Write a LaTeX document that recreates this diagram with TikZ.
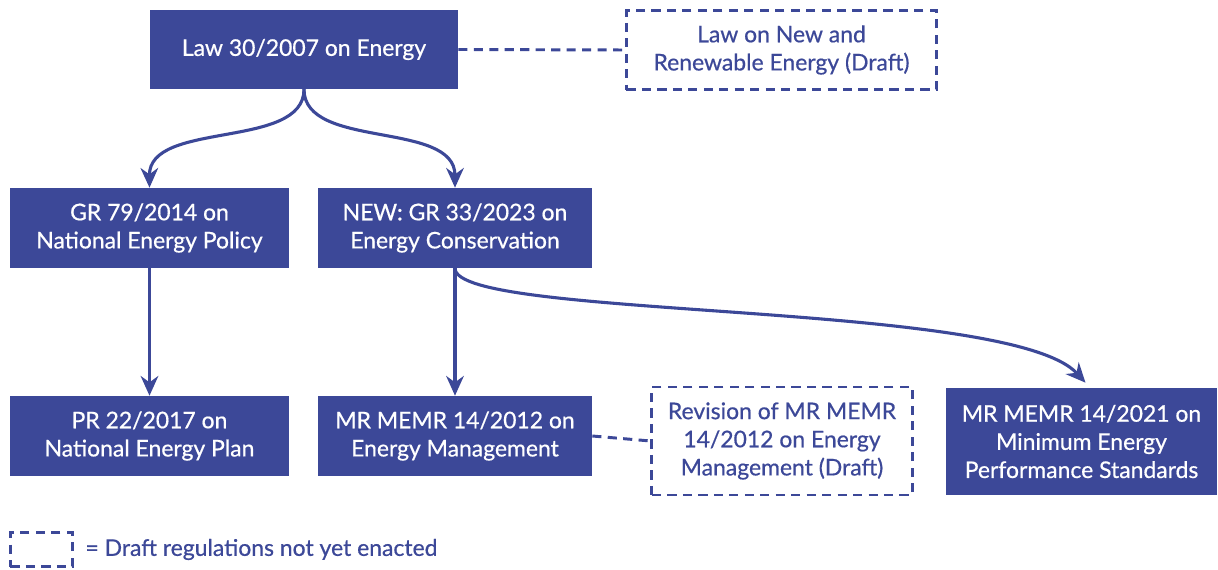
\documentclass[tikz,border=0pt]{standalone}
\usepackage{fontspec}
\setmainfont{Lato}[RawFeature={embolden=0.6}]
\usepackage{tikz}
\usetikzlibrary{arrows.meta, positioning, calc}
\definecolor{regblue}{RGB}{60,72,152}

\tikzset{
  regbox/.style={rectangle, fill=regblue, text=white, align=center, inner sep=0pt, font=\fontsize{16.3}{20}\selectfont},
  draftbox/.style={rectangle, draw=regblue, text=regblue, dash pattern=on 6.5pt off 4.5pt, line width=2.1pt, align=center, inner sep=0pt, font=\fontsize{16.3}{20}\selectfont},
  link/.style={regblue, line width=2.2pt, -{Stealth[length=14pt, width=12.5pt, inset=4.5pt]}},
  draftlink/.style={regblue, line width=2.1pt, dash pattern=on 6.5pt off 4.5pt}
}

\begin{document}
\begin{tikzpicture}[x=0.025cm, y=-0.025cm]
      \useasboundingbox (0,0) rectangle (1218,570);

      \node[regbox, minimum width=7.7cm, minimum height=1.975cm] (law) at (304, 49.5) {Law 30/2007 on Energy};
      \node[draftbox, minimum width=7.75cm, minimum height=1.975cm] (lawdraft) at (781.5, 50) {Law on New and\\Renewable Energy (Draft)};

      \node[regbox, minimum width=6.975cm, minimum height=2cm] (gr79) at (149.5, 228) {GR 79/2014 on\\National Energy Policy};
      \node[regbox, minimum width=6.85cm, minimum height=2cm] (gr33) at (455, 228) {NEW: GR 33/2023 on\\Energy Conservation};

      \node[regbox, minimum width=6.975cm, minimum height=2cm] (pr22) at (149.5, 436) {PR 22/2017 on\\National Energy Plan};
      \node[regbox, minimum width=6.85cm, minimum height=2cm] (mr12) at (455, 436) {MR MEMR 14/2012 on\\Energy Management};
      \node[draftbox, minimum width=6.5cm, minimum height=2.7cm] (mr12draft) at (782, 441) {Revision of MR MEMR\\14/2012 on Energy\\Management (Draft)};
      \node[regbox, minimum width=6.775cm, minimum height=2.675cm] (mr21) at (1081.5, 441.5) {MR MEMR 14/2021 on\\Minimum Energy\\Performance Standards};

      % legend
      \node[draftbox, minimum width=1.55cm, minimum height=0.85cm] (legbox) at (41.5, 549.5) {};
      \node[right=8pt of legbox, text=regblue, inner sep=0pt, font=\fontsize{16.3}{20}\selectfont] (legtext) {= Draft regulations not yet enacted};

      % links
      \draw[link] (law.south) .. controls (304, 150) and (149, 120) .. (gr79.north);
      \draw[link] (law.south) .. controls (304, 150) and (455, 120) .. (gr33.north);
      \draw[link] (gr79.south) -- (pr22.north);
      \draw[link] (gr33.south) -- (mr12.north);
      \draw[link] (gr33.south) .. controls (455, 320) and (1010, 300) .. ($(mr21.north)+(4,-5)$);

      \draw[draftlink] (law.east) -- (lawdraft.west);
      \draw[draftlink] (mr12.east) -- (mr12draft.west);

    \end{tikzpicture}
\end{document}
